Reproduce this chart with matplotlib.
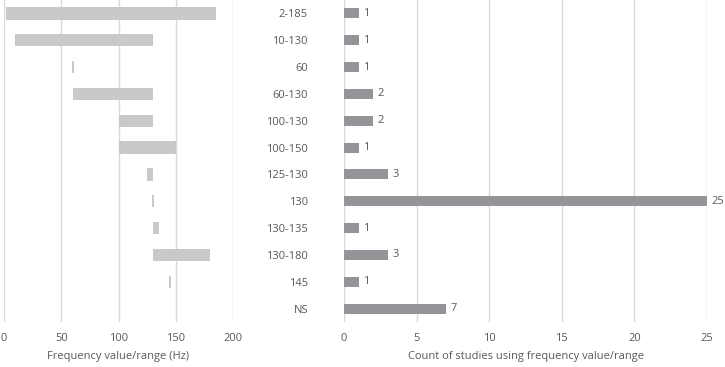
import matplotlib.pyplot as plt
import numpy as np

# Data
labels = ['2-185', '10-130', '60', '60-130', '100-130', '100-150',
          '125-130', '130', '130-135', '130-180', '145', 'NS']
freq_low = [2, 10, 60, 60, 100, 100, 125, 130, 130, 130, 145, np.nan]
freq_high = [185, 130, 60, 130, 130, 150, 130, 130, 135, 180, 145, np.nan]
counts = [1, 1, 1, 2, 2, 1, 3, 25, 1, 3, 1, 7]

freq_ticks = [0, 50, 100, 150, 200]
count_ticks = [0, 5, 10, 15, 20, 25]

txt_col = '#595959'
grid_col = '#D9D9D9'
fs = 8
plt.rcParams['font.family'] = ['Open Sans', 'DejaVu Sans']

fig = plt.figure(figsize=(7.25, 3.67), dpi=100)
ax1 = fig.add_axes([4 / 725, 1 - 322 / 367, 229 / 725, 322 / 367])
ax2 = fig.add_axes([344 / 725, 1 - 322 / 367, 363 / 725, 322 / 367])

y = np.arange(len(labels))

# left panel: floating bars min..max, single values get a thin sliver
low = np.array(freq_low, dtype=float)
high = np.array(freq_high, dtype=float)
width = high - low
width = np.where(width < 1.5, 1.5, width)
start = np.where(high - low < 1.5, low - 0.75, low)
ok = ~np.isnan(low)
ax1.barh(y[ok], width[ok], left=start[ok], height=0.46, color='#C9C9CA', zorder=3)
ax1.set_xlim(0, 200)
ax1.set_xticks(freq_ticks)
ax1.set_yticks([])
ax1.set_xlabel('Frequency value/range (Hz)', color=txt_col, fontsize=fs, labelpad=5)

# right panel: counts
ax2.barh(y, counts, height=0.37, color='#939598', zorder=3)
for yi, c in zip(y, counts):
    ax2.annotate(str(c), (c, yi), xytext=(3.5, 0), textcoords='offset points',
                 va='center', ha='left', fontsize=fs, color=txt_col)
ax2.set_xlim(0, 25)
ax2.set_xticks(count_ticks)
ax2.set_yticks(y)
ax2.set_yticklabels(labels)
ax2.set_xlabel('Count of studies using frequency value/range', color=txt_col,
               fontsize=fs, labelpad=5)

for ax in (ax1, ax2):
    ax.set_ylim(len(labels) - 0.5, -0.5)
    for s in ax.spines.values():
        s.set_visible(False)
    ax.grid(axis='x', color=grid_col, lw=1, zorder=0)
    ax.tick_params(axis='both', length=0, colors=txt_col, labelsize=fs)
    ax.tick_params(axis='x', pad=8)
ax2.tick_params(axis='y', pad=26)
ax1.set_axisbelow(True)
ax2.set_axisbelow(True)

fig.savefig('out.png', dpi=100)
